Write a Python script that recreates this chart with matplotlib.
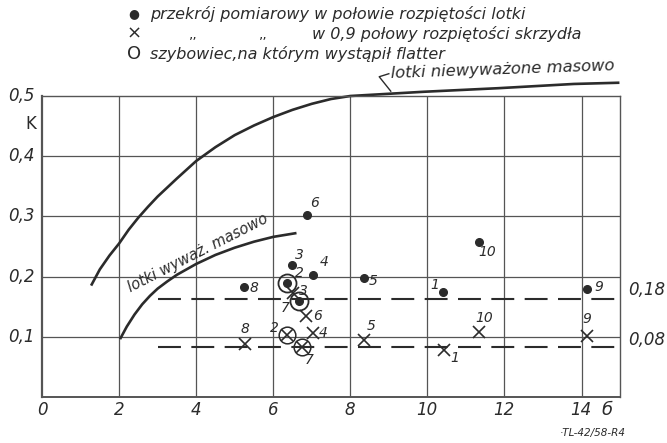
import numpy as np
import matplotlib.pyplot as plt

# curves
upper_x = [1.29, 1.5, 1.75, 2.0, 2.25, 2.5, 2.75, 3.0, 3.5, 4.0, 4.5, 5.0, 5.5, 6.0, 6.5,
           7.0, 7.5, 8.0, 9.9, 11.85, 13.8, 14.95]
upper_k = [0.187, 0.212, 0.235, 0.255, 0.278, 0.298, 0.316, 0.333, 0.363, 0.392, 0.415,
           0.435, 0.451, 0.465, 0.477, 0.487, 0.495, 0.50, 0.507, 0.513, 0.52, 0.522]
lower_x = [2.04, 2.2, 2.4, 2.6, 2.8, 3.0, 3.25, 3.5, 4.0, 4.5, 5.0, 5.5, 6.0, 6.57]
lower_k = [0.098, 0.117, 0.137, 0.154, 0.168, 0.18, 0.192, 0.203, 0.221, 0.236, 0.248,
           0.258, 0.266, 0.272]

# limits (dashed)
lim_hi = 0.163
lim_lo = 0.083
lim_labels = ['0,18', '0,08']

# points: section at half aileron span (dots)
dot_x = [10.4, 6.36, 6.49, 7.04, 8.35, 6.88, 6.66, 5.25, 14.15, 11.33]
dot_k = [0.174, 0.19, 0.22, 0.203, 0.198, 0.303, 0.159, 0.183, 0.18, 0.257]
# points: section at 0.9 half wing span (crosses)
cross_x = [10.42, 6.36, 6.52, 7.04, 8.35, 6.86, 6.75, 5.27, 14.13, 11.33]
cross_k = [0.078, 0.103, 0.172, 0.107, 0.095, 0.135, 0.083, 0.088, 0.102, 0.108]
numbers = ['1', '2', '3', '4', '5', '6', '7', '8', '9', '10']
flutter = ['2', '7']

xticks = [0, 2, 4, 6, 8, 10, 12, 14]
yticks = [0.1, 0.2, 0.3, 0.4, 0.5]
ytick_labels = ['0,1', '0,2', '0,3', '0,4', '0,5']

ink = '#2b2b2b'
gridc = '#555555'

fig = plt.figure(figsize=(6.67, 4.43), dpi=100)
ax = fig.add_axes([0.063, 0.1038, 0.8666, 0.6795])
ax.set_xlim(0, 15)
ax.set_ylim(0, 0.5)

for xv in xticks[1:]:
    ax.axvline(xv, color=gridc, lw=0.9)
for yv in yticks[:-1]:
    ax.axhline(yv, color=gridc, lw=0.9)
for s in ax.spines.values():
    s.set_color(gridc)
    s.set_linewidth(1.0)
ax.spines['left'].set_linewidth(1.6)
ax.spines['bottom'].set_linewidth(1.4)
ax.set_xticks([])
ax.set_yticks([])

ax.plot(upper_x, upper_k, color=ink, lw=1.9, clip_on=False, solid_joinstyle='round')
ax.plot(lower_x, lower_k, color=ink, lw=1.9, solid_joinstyle='round')

ax.plot([3.0, 15], [lim_hi, lim_hi], color=ink, lw=1.5, ls=(0, (11, 5)))
ax.plot([3.0, 15], [lim_lo, lim_lo], color=ink, lw=1.5, ls=(0, (11, 5)))
ax.text(15.2, lim_hi + 0.014, lim_labels[0], fontsize=12, style='italic', color=ink, va='center')
ax.text(15.2, lim_lo + 0.012, lim_labels[1], fontsize=12, style='italic', color=ink, va='center')

ax.plot(dot_x, dot_k, 'o', color=ink, ms=5.5, ls='none')
ax.plot(cross_x, cross_k, 'x', color=ink, ms=8, mew=1.2, ls='none')
for i, n in enumerate(numbers):
    if n in flutter:
        ax.plot(dot_x[i], dot_k[i], 'o', mfc='none', mec=ink, ms=13, mew=1.3)
        ax.plot(cross_x[i], cross_k[i], 'o', mfc='none', mec=ink, ms=12, mew=1.1)

dot_off = {'1': (-6, 5), '2': (9, 7), '3': (5, 7), '4': (8, 9), '5': (7, -2),
           '6': (5, 8), '7': (-10, -5), '8': (7, -1), '9': (8, 1), '10': (6, -7)}
cross_off = {'1': (8, -6), '2': (-9, 5), '3': (7, 2), '4': (7, 0), '5': (5, 10),
             '6': (8, 0), '7': (5, -9), '8': (0, 11), '9': (0, 12), '10': (4, 10)}
for i, n in enumerate(numbers):
    ax.annotate(n, (dot_x[i], dot_k[i]), xytext=dot_off[n], textcoords='offset points',
                fontsize=10, style='italic', color=ink, ha='center', va='center')
    ax.annotate(n, (cross_x[i], cross_k[i]), xytext=cross_off[n], textcoords='offset points',
                fontsize=10, style='italic', color=ink, ha='center', va='center')

# curve labels
ax.text(4.05, 0.24, 'lotki wyważ. masowo', rotation=27, fontsize=10.5, style='italic',
        color=ink, ha='center', va='center', rotation_mode='anchor')
ax.text(9.05, 0.537, 'lotki niewyważone masowo', rotation=2, fontsize=11.8, style='italic',
        color=ink, ha='left', va='center', clip_on=False, rotation_mode='anchor')
ax.plot([9.0, 8.75, 9.05], [0.537, 0.532, 0.508], color=ink, lw=1.0, clip_on=False)

# axis texts
for xv in xticks:
    fig.text((42 + xv * 38.5) / 667, 1 - 410 / 443, str(xv), fontsize=12, style='italic',
             color=ink, ha='center', va='center')
for yv, lab in zip(yticks, ytick_labels):
    ax.text(-0.2, yv, lab, fontsize=12, style='italic', color=ink, ha='right', va='center')
ax.text(-0.3, 0.453, 'K', fontsize=12, color=ink, ha='center', va='center')
ax.text(14.65, -0.022, 'б', fontsize=13, style='italic', color=ink, ha='center', va='center',
        clip_on=False)
fig.text(560 / 667, 1 - 433 / 443, '·TL-42/58-R4', fontsize=7.5, style='italic', color=ink,
         ha='left', va='center')

# legend block
fig.text(134 / 667, 1 - 14 / 443, '●', fontsize=9, color=ink, ha='center', va='center')
fig.text(150 / 667, 1 - 14 / 443, 'przekrój pomiarowy w połowie rozpiętości lotki',
         fontsize=11.5, style='italic', color=ink, ha='left', va='center')
fig.text(134 / 667, 1 - 34 / 443, '×', fontsize=13, color=ink, ha='center', va='center')
fig.text(193 / 667, 1 - 34 / 443, ',,', fontsize=10, color=ink, ha='center', va='center')
fig.text(263 / 667, 1 - 34 / 443, ',,', fontsize=10, color=ink, ha='center', va='center')
fig.text(312 / 667, 1 - 34 / 443, 'w 0,9 połowy rozpiętości skrzydła',
         fontsize=11.5, style='italic', color=ink, ha='left', va='center')
fig.text(134 / 667, 1 - 54 / 443, 'O', fontsize=13, color=ink, ha='center', va='center')
fig.text(150 / 667, 1 - 54 / 443, 'szybowiec,na którym wystąpił flatter',
         fontsize=11.5, style='italic', color=ink, ha='left', va='center')

fig.savefig('out.png', dpi=100)
